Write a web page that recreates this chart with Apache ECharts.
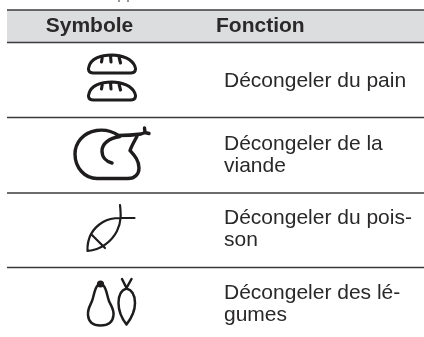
<!DOCTYPE html>
<html>
<head>
<meta charset="utf-8">
<style>
  html, body { margin: 0; padding: 0; background: #fff; }
  #main { width: 424px; height: 337px; }
</style>
<script src="https://cdn.jsdelivr.net/npm/echarts@6/dist/echarts.min.js"></script>
</head>
<body>
<div id="main"></div>
<script>
var headers = ['Symbole', 'Fonction'];
var functions = [
  'Décongeler du pain',
  'Décongeler de la\nviande',
  'Décongeler du pois-\nson',
  'Décongeler des lé-\ngumes'
];
var symbols = [
  // pain
  'M93 73H131C135 73 136.5 70 135 66.5C132 59 122 55 112 55C100 55 91 59 89 66.5C87.5 70 89 73 93 73Z' +
  'M102.5 56L101.5 62M110.5 55.5L111 62M119 57L120.5 63' +
  'M93 100H131C135 100 136.5 97 135 93.5C132 86 122 82 112 82C100 82 91 86 89 93.5C87.5 97 89 100 93 100Z' +
  'M102.5 83L101.5 89M110.5 82.5L111 89M119 84L120.5 90',
  // viande
  'M118.5 135.5C112 131 104 129.5 96.5 130.5C83 132.5 75 143 75 154C75 168 85 178.5 97 178.5H128C135 178.5 139 174 139 168C139 160 134 155 130 150.5C132 145 135 140 137.5 135.5' +
  'M120 136.5C109 138 102 144 102 151C102 157 106 161.5 112 163' +
  'M118.5 135.5C126 135.5 134 135 141 134M141 134L145 132.5M145 132.5L144.5 128M145 132.5L149 133.5',
  // poisson
  'M120 205C121 214 121.5 222 117 231C112 241 101 250 87.5 251C87 238 93 228 103 222C108 219 113 218 120 218H134.5M91.5 234.5L105 248',
  // legumes
  'M97.5 285.5C94 290 94 296 92 301C90 306 87.5 309 88 315C88.5 322 93 325.5 100.5 325.5C108 325.5 113 322 113.5 315C114 309 111 306 109 301C107 296 107 290 103.5 285.5Z' +
  'M126.5 288.5C121 290 118.5 295 118.5 303C118.5 312 123 320 126.5 324.5C130 320 135 312 135 303C135 295 132 290 126.5 288.5Z' +
  'M122 279L126.5 288L131.5 279'
];
var symbolWidths = [3.1, 3.4, 2.2, 2.5];

var ruleColor = '#3b3a3c';
var textColor = '#2a2829';
var rows = [10, 42.5, 117.5, 193, 267.5];
var textTops = [70, 133, 207.5, 282.5];
var elements = [];

elements.push({
  type: 'rect',
  shape: { x: 7, y: rows[0], width: 417, height: rows[1] - rows[0] },
  style: { fill: '#dcddde' }
});
rows.forEach(function (y) {
  elements.push({
    type: 'line',
    shape: { x1: 7, y1: y, x2: 424, y2: y },
    style: { stroke: ruleColor, lineWidth: 1.5 }
  });
});
// bout du texte coupe au dessus du tableau
[119, 128].forEach(function (x) {
  elements.push({
    type: 'line',
    shape: { x1: x, y1: 0, x2: x, y2: 2 },
    style: { stroke: '#777', lineWidth: 1.5 }
  });
});
elements.push({
  type: 'text', x: 89.5, y: 26.5,
  style: { text: headers[0], font: 'bold 21px "Liberation Sans"', fill: textColor, align: 'center', verticalAlign: 'middle' }
});
elements.push({
  type: 'text', x: 216, y: 26.5,
  style: { text: headers[1], font: 'bold 21px "Liberation Sans"', fill: textColor, align: 'left', verticalAlign: 'middle' }
});
functions.forEach(function (label, i) {
  elements.push({
    type: 'text', x: 224, y: textTops[i],
    style: { text: label, font: '21px "Liberation Sans"', lineHeight: 22, fill: textColor, align: 'left', verticalAlign: 'top' }
  });
});
symbols.forEach(function (d, i) {
  echarts.graphic.registerShape('symbol' + i, echarts.graphic.extendPath(d, {}));
  elements.push({
    type: 'symbol' + i,
    style: { fill: null, stroke: '#1e1c1d', lineWidth: symbolWidths[i], lineCap: 'round', lineJoin: 'round' }
  });
});
// queue du poivron
elements.push({
  type: 'circle',
  shape: { cx: 100.5, cy: 284, r: 3.6 },
  style: { fill: '#1e1c1d' }
});

var chart = echarts.init(document.getElementById('main'), null, { renderer: 'canvas' });
chart.setOption({
  animation: false,
  backgroundColor: '#fff',
  graphic: { elements: elements }
});
</script>
</body>
</html>
